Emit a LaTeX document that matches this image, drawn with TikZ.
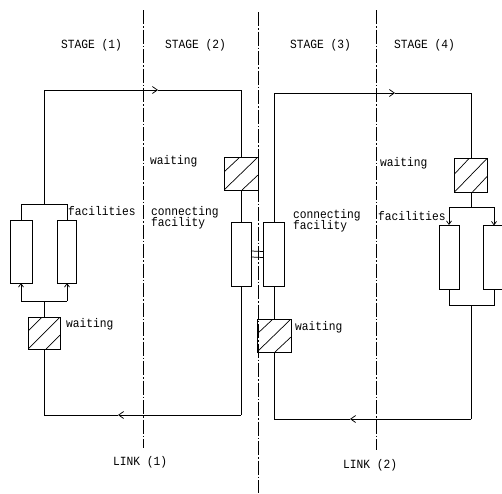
\documentclass[tikz,border=0pt]{standalone}
\usepackage{fontspec}
\newfontfamily\tw[FakeStretch=0.9]{Liberation Mono}
\usetikzlibrary{arrows.meta}
\begin{document}
\begin{tikzpicture}[x=1pt,y=-1pt,
  ln/.style={line width=0.75pt},
  arr/.style={ln,-{Straight Barb[length=5pt,width=7pt]}},
  sarr/.style={ln,-{Straight Barb[length=3.5pt,width=5pt]}},
  divider/.style={line width=0.6pt,dash pattern=on 14pt off 2pt on 1.5pt off 2pt},
  fac/.style={draw,line width=0.95pt,inner sep=0,outer sep=0,minimum height=64pt},
  hbox/.style={draw,line width=0.95pt,inner sep=0,outer sep=0,minimum width=33pt,minimum height=33pt,
    path picture={
      \draw[line width=0.7pt] (path picture bounding box.south west) -- (path picture bounding box.north east);
      \draw[line width=0.7pt] ([yshift=18pt]path picture bounding box.south west) -- ([xshift=-18pt]path picture bounding box.north east);
      \draw[line width=0.7pt] ([xshift=18pt]path picture bounding box.south west) -- ([yshift=-18pt]path picture bounding box.north east);
    }},
  lbl/.style={anchor=base west,inner sep=0,font=\tw\fontsize{12.5}{14}\selectfont}
]
\useasboundingbox (0,0) rectangle (502,493);

% dividers
\coordinate (d1t) at (143,10); \coordinate (d1b) at (143,448);
\coordinate (d2t) at (258,12); \coordinate (d2b) at (258,493);
\coordinate (d3t) at (376,10); \coordinate (d3b) at (376,450);
\draw[divider] (d1t) -- (d1b);
\draw[divider] (d2t) -- (d2b);
\draw[divider] (d3t) -- (d3b);

% stage labels
\node[lbl] (s1) at (61,48) {STAGE (1)};
\node[lbl] (s2) at (165,48) {STAGE (2)};
\node[lbl] (s3) at (290,48) {STAGE (3)};
\node[lbl] (s4) at (394,48) {STAGE (4)};
\node[lbl] (l1) at (113,465) {LINK (1)};
\node[lbl] (l2) at (343,468) {LINK (2)};

% boxes
\node[hbox,minimum width=32pt,minimum height=32pt] (w0) at (44,333) {};
\node[fac,minimum width=22pt,minimum height=63pt] (fA) at (21,251.5) {};
\node[fac,minimum width=19pt,minimum height=63pt] (fB) at (67,251.5) {};
\node[hbox,minimum width=34pt] (w1) at (241,173.5) {};
\node[fac,minimum width=20pt] (cf1) at (241,254) {};
\node[fac,minimum width=21pt] (cf2) at (274,254.5) {};
\node[hbox,minimum width=34pt] (w2) at (274,335.5) {};
\node[hbox,minimum height=34pt] (w3) at (471,175) {};
\node[fac,minimum width=20pt] (fC) at (449,257) {};
\node[fac,minimum width=22pt] (fD) at (494,257.5) {};

% text labels
\node[lbl] (tw1) at (150,164) {waiting};
\node[lbl] (tf1) at (68,215) {facilities};
\node[lbl] (tc1) at (151,215) {connecting};
\node[lbl] (tc1b) at (151,226) {facility};
\node[lbl] (tw0) at (66,327) {waiting};
\node[lbl] (tc2) at (293,218) {connecting};
\node[lbl] (tc2b) at (293,229) {facility};
\node[lbl] (tw2) at (295,330) {waiting};
\node[lbl] (tw3) at (380,166) {waiting};
\node[lbl] (tf3) at (378,220) {facilities};

% left loop
\coordinate (t1L) at (44,90); \coordinate (a1) at (158,90); \coordinate (t1R) at (241,90);
\coordinate (sp1) at (44,204); \coordinate (sp1a) at (21,204); \coordinate (sp1b) at (67,204);
\coordinate (sp0) at (44,301); \coordinate (sp0a) at (21,301); \coordinate (sp0b) at (67,301);
\coordinate (b1R) at (241,415); \coordinate (a2) at (118,415); \coordinate (b1L) at (44,415);

\draw[ln] (w0.north) -- (sp0);
\draw[ln] (sp0a) -- (sp0b);
\draw[sarr] (sp0a) -- (fA.south);
\draw[sarr] (sp0b) -- (fB.south);
\draw[ln] (fA.north) -- (sp1a) -- (sp1b) -- (fB.north);
\draw[ln] (sp1) -- (t1L);
\draw[arr] (t1L) -- (a1);
\draw[ln] (a1) -- (t1R) -- (w1.north);
\draw[ln] (w1.south) -- (cf1.north);
\draw[ln] (cf1.south) -- (b1R);
\draw[arr] (b1R) -- (a2);
\draw[ln] (a2) -- (b1L) -- (w0.south);

% coupling
\draw[ln] ([yshift=3pt]cf1.east) -- ([yshift=3pt]cf2.west);
\draw[ln] ([yshift=-3pt]cf1.east) -- ([yshift=-3pt]cf2.west);

% right loop
\coordinate (t2L) at (274,93); \coordinate (a3) at (395,93); \coordinate (t2R) at (471,93);
\coordinate (sp3) at (471,207); \coordinate (sp3a) at (449,207); \coordinate (sp3b) at (494,207);
\coordinate (sp4) at (471,305); \coordinate (sp4a) at (449,305); \coordinate (sp4b) at (494,305);
\coordinate (b2R) at (471,419); \coordinate (a4) at (350,419); \coordinate (b2L) at (274,419);

\draw[ln] (cf2.north) -- (t2L);
\draw[arr] (t2L) -- (a3);
\draw[ln] (a3) -- (t2R) -- (w3.north);
\draw[ln] (w3.south) -- (sp3);
\draw[ln] (sp3a) -- (sp3b);
\draw[sarr] (sp3a) -- (fC.north);
\draw[sarr] (sp3b) -- (fD.north);
\draw[ln] (fC.south) -- (sp4a) -- (sp4b) -- (fD.south);
\draw[ln] (sp4) -- (b2R);
\draw[arr] (b2R) -- (a4);
\draw[ln] (a4) -- (b2L) -- (w2.south);
\draw[ln] (w2.north) -- (cf2.south);
\end{tikzpicture}
\end{document}
